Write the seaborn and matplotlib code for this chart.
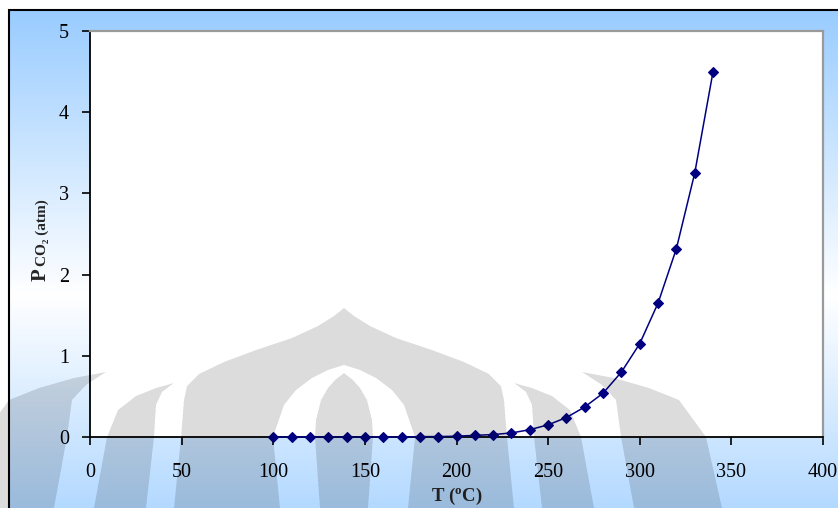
import numpy as np
import pandas as pd
import matplotlib
matplotlib.use("Agg")
import matplotlib.pyplot as plt
from matplotlib.patches import Rectangle
import seaborn as sns

# Equilibrium CO2 partial pressure versus temperature
temperature_c = [100, 110, 120, 130, 140, 150, 160, 170, 180, 190, 200, 210,
                 220, 230, 240, 250, 260, 270, 280, 290, 300, 310, 320, 330, 340]
pco2_atm = [0.0, 0.0, 0.0, 0.0, 0.0, 0.0, 0.0, 0.0, 0.005, 0.005, 0.01, 0.02,
            0.03, 0.05, 0.09, 0.15, 0.24, 0.37, 0.54, 0.80, 1.15, 1.65, 2.32, 3.25, 4.50]

x_ticks = [0, 50, 100, 150, 200, 250, 300, 350, 400]
y_ticks = [0, 1, 2, 3, 4, 5]

df = pd.DataFrame({"T": temperature_c, "P": pco2_atm})

sns.set_theme(style="white")
plt.rcParams["font.family"] = ["Liberation Serif", "DejaVu Serif"]
plt.rcParams["mathtext.fontset"] = "custom"
plt.rcParams["mathtext.rm"] = "Liberation Serif"
plt.rcParams["mathtext.bf"] = "Liberation Serif:bold"

W, H = 838, 508
fig = plt.figure(figsize=(W / 100, H / 100), dpi=100)
fig.patch.set_facecolor("white")

# Chart-area background: blue -> white -> blue vertical gradient inside a black frame
frame_left, frame_top = 9, 10
bg_ax = fig.add_axes([frame_left / W, 0, 1 - frame_left / W, 1 - frame_top / H], zorder=0)
rows = np.arange(frame_top, H)
t = np.clip(np.abs(rows - 295) / 285.0, 0, 1)
blue = np.array([153, 204, 255]) / 255.0
white = np.array([1.0, 1.0, 1.0])
grad = white[None, :] * (1 - t[:, None]) + blue[None, :] * t[:, None]
grad = np.repeat(grad[:, None, :], 4, axis=1)
bg_ax.imshow(grad, aspect="auto", extent=[0, 1, 0, 1], origin="upper")
bg_ax.set_axis_off()
fig.add_artist(Rectangle((frame_left / W, -0.05), 1.2, 1 - frame_top / H + 0.05,
                         transform=fig.transFigure, fill=False,
                         edgecolor="black", linewidth=1.5, zorder=1))

# Plot area
ax_l, ax_r, ax_t, ax_b = 90, 823, 31, 437
ax = fig.add_axes([ax_l / W, 1 - ax_b / H, (ax_r - ax_l) / W, (ax_b - ax_t) / H], zorder=2)
ax.set_facecolor("white")

navy = "#000080"
sns.lineplot(data=df, x="T", y="P", ax=ax, color=navy, linewidth=1.1,
             marker="D", markersize=5, markeredgecolor=navy,
             markerfacecolor=navy, markeredgewidth=0.8, clip_on=False, zorder=5)

ax.set_xlim(0, 400)
ax.set_ylim(0, 5)
ax.set_xticks(x_ticks)
ax.set_yticks(y_ticks)
ax.set_xticklabels([str(v) for v in x_ticks])
ax.set_yticklabels([str(v) for v in y_ticks])
ax.tick_params(axis="both", which="major", direction="out", length=6, width=1.2,
               color="black", labelsize=14.5, labelcolor="black")
ax.tick_params(axis="x", pad=13)
ax.tick_params(axis="y", pad=9)
ax.xaxis.set_ticks_position("bottom")
ax.yaxis.set_ticks_position("left")

for side in ("left", "bottom"):
    ax.spines[side].set_color("black")
    ax.spines[side].set_linewidth(1.3)
for side in ("top", "right"):
    ax.spines[side].set_color("#9a9a9a")
    ax.spines[side].set_linewidth(1.6)

ax.set_xlabel("")
ax.set_ylabel("")

# Axis titles
fig.text((ax_l + ax_r) / 2 / W, 1 - 496 / H, r"T ($\mathbf{^{o}}$C)", ha="center", va="center",
         fontsize=13.5, fontweight="bold")
p_text = fig.text(46 / W, 1 - 281 / H, "P", rotation=90, rotation_mode="anchor",
                  ha="left", va="baseline", fontsize=15, fontweight="bold")
ax.annotate("CO\u2082 (atm)", xy=(46 / W, 1.0), xycoords=("figure fraction", p_text),
            xytext=(0, 1.5), textcoords="offset points", rotation=90,
            rotation_mode="anchor", ha="left", va="baseline",
            fontsize=11, fontweight="bold", annotation_clip=False)


# Faint page watermark (dome emblem) laid over the lower part of the page
def half_width(yy, pts):
    ys = [p[0] for p in pts]
    ws = [p[1] for p in pts]
    w = np.interp(yy, ys, ws)
    return np.where(yy < ys[0], -1.0, w)


ss = 3
yy, xx = np.mgrid[0:H * ss, 0:W * ss]
yy = (yy + 0.5) / ss
xx = (xx + 0.5) / ss
dx = np.abs(xx - 344)

petal = dx < half_width(yy, [(373, 0), (380, 9), (388, 16), (400, 23), (420, 28),
                             (437, 29), (508, 24)])
inner = dx < half_width(yy, [(365, 0), (370, 16), (378, 32), (390, 48), (405, 60),
                             (437, 71), (508, 64)])
dome = dx < half_width(yy, [(308, 0), (316, 10), (326, 26), (338, 52), (350, 88),
                            (362, 120), (374, 145), (386, 157), (400, 160),
                            (437, 163), (508, 170)])
lobe1_in = half_width(yy, [(383, 170), (392, 182), (405, 188), (437, 190), (508, 198)])
lobe1_out = half_width(yy, [(383, 170), (388, 188), (396, 208), (410, 226),
                            (437, 237), (508, 250)])
lobe2_in = half_width(yy, [(372, 238), (385, 258), (400, 272), (437, 277), (508, 290)])
lobe2_out = half_width(yy, [(372, 238), (378, 270), (388, 305), (400, 335),
                            (437, 362), (508, 378)])
lobe1 = (dx > lobe1_in) & (dx < lobe1_out)
lobe2 = (dx > lobe2_in) & (dx < lobe2_out)

mark = (dome & ~(inner & ~petal)) | lobe1 | lobe2
alpha = mark.reshape(H, ss, W, ss).mean(axis=(1, 3)) * 0.14
wm = np.zeros((H, W, 4))
wm[..., 3] = alpha
fig.figimage(wm, xo=0, yo=0, origin="upper", zorder=10)

fig.savefig("out.png", dpi=100)
